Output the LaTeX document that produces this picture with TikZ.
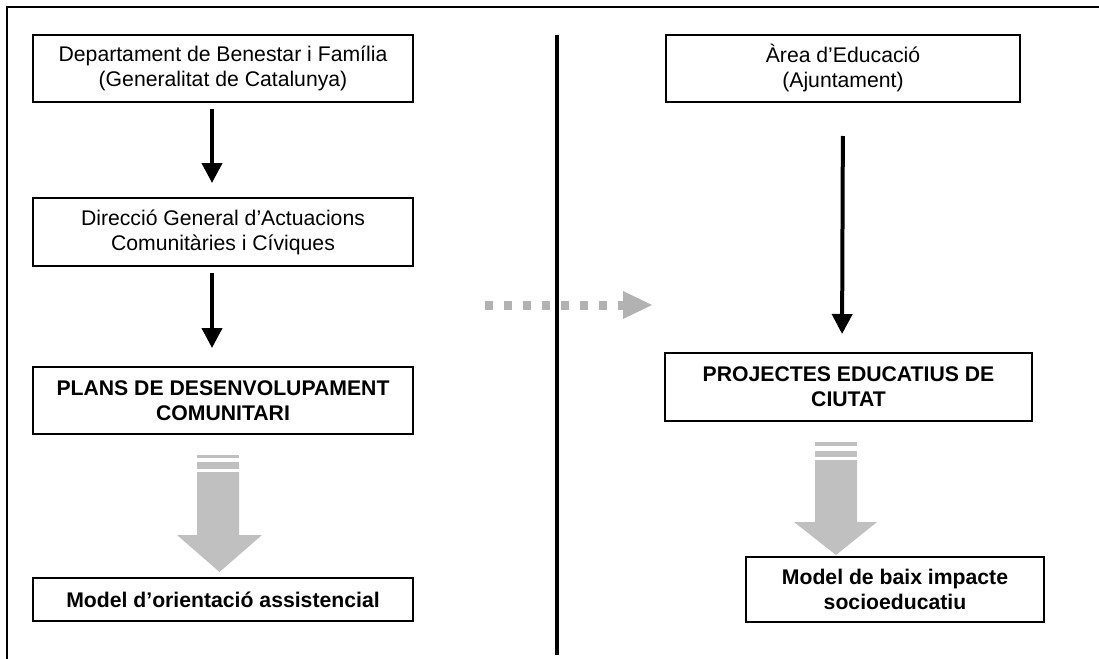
\documentclass[tikz,border=0pt]{standalone}
\usepackage{fontspec}
\setmainfont{Liberation Sans}
\usetikzlibrary{arrows.meta}
\definecolor{arrowgray}{RGB}{192,192,192}
\definecolor{dashgray}{RGB}{178,178,178}
\tikzset{
  box/.style={draw=black, line width=1pt, fill=white, rectangle, inner sep=1pt, align=center,
    font=\fontsize{10.6}{12.5}\selectfont},
  boldbox/.style={box, font=\fontsize{10.6}{12.5}\selectfont\bfseries},
  blackarrow/.style={line width=2pt, -{Triangle[length=10pt,width=10pt]}},
  divider/.style={line width=2pt},
  frame/.style={line width=1pt},
}
\begin{document}
\begin{tikzpicture}[x=0.5pt,y=-0.5pt]
\useasboundingbox (0,0) rectangle (1099,659);
% outer frame (only top and left visible)
\draw[frame] (1099,7) -- (7,7) -- (7,659);
% divider
\coordinate (dtop) at (557,35);
\coordinate (dbot) at (557,655);
\draw[divider] (dtop) -- (dbot);
% left column
\node[box, minimum width=190pt, minimum height=33.5pt] (b1) at (223,68.5)
  {Departament de Benestar i Família\\(Generalitat de Catalunya)};
\node[box, minimum width=190pt, minimum height=34pt] (b2) at (223,232)
  {Direcció General d’Actuacions\\Comunitàries i Cíviques};
\node[boldbox, minimum width=190pt, minimum height=33.5pt] (b3) at (223,400.5)
  {PLANS DE DESENVOLUPAMENT\\COMUNITARI};
\node[boldbox, minimum width=190pt, minimum height=21.5pt] (b4) at (223,599.5)
  {Model d’orientació assistencial};
% right column
\node[box, minimum width=177pt, minimum height=33.5pt] (r1) at (843,68.5)
  {Àrea d’Educació\\(Ajuntament)};
\node[boldbox, minimum width=183.5pt, minimum height=34pt] (r2) at (848.5,387)
  {PROJECTES EDUCATIUS DE\\CIUTAT};
\node[boldbox, minimum width=149pt, minimum height=32.5pt] (r3) at (895,589.5)
  {Model de baix impacte\\socioeducatiu};
% black arrows
\draw[blackarrow, shorten <=3pt, shorten >=7pt] ([xshift=-5.5pt]b1.south) -- ([xshift=-5.5pt]b2.north);
\draw[blackarrow, shorten <=3pt, shorten >=9pt] ([xshift=-5.5pt]b2.south) -- ([xshift=-5.5pt]b3.north);
\draw[blackarrow, shorten <=16.5pt, shorten >=9pt] (r1.south) -- ([xshift=-3.25pt]r2.north);
% left gray striped arrow
\fill[arrowgray] (197,455) rectangle (239,458);
\fill[arrowgray] (197,462) rectangle (239,469);
\fill[arrowgray] (197,472) -- (239,472) -- (239,535) -- (262,535) -- (219.5,572)
  -- (177,535) -- (197,535) -- cycle;
% right gray striped arrow
\fill[arrowgray] (815,442) rectangle (857,446);
\fill[arrowgray] (815,451) rectangle (857,457);
\fill[arrowgray] (815,460) -- (857,460) -- (857,522) -- (877,522) -- (836,555)
  -- (794,522) -- (815,522) -- cycle;
% dashed gray arrow
\coordinate (ds) at (485,305);
\coordinate (de) at (623,305);
\coordinate (dtip) at (652,305);
\draw[dashgray, line width=4.5pt, dash pattern=on 4pt off 5.5pt] (ds) -- (de);
\fill[dashgray] (623,291) -- (dtip) -- (623,319) -- cycle;
\end{tikzpicture}
\end{document}
